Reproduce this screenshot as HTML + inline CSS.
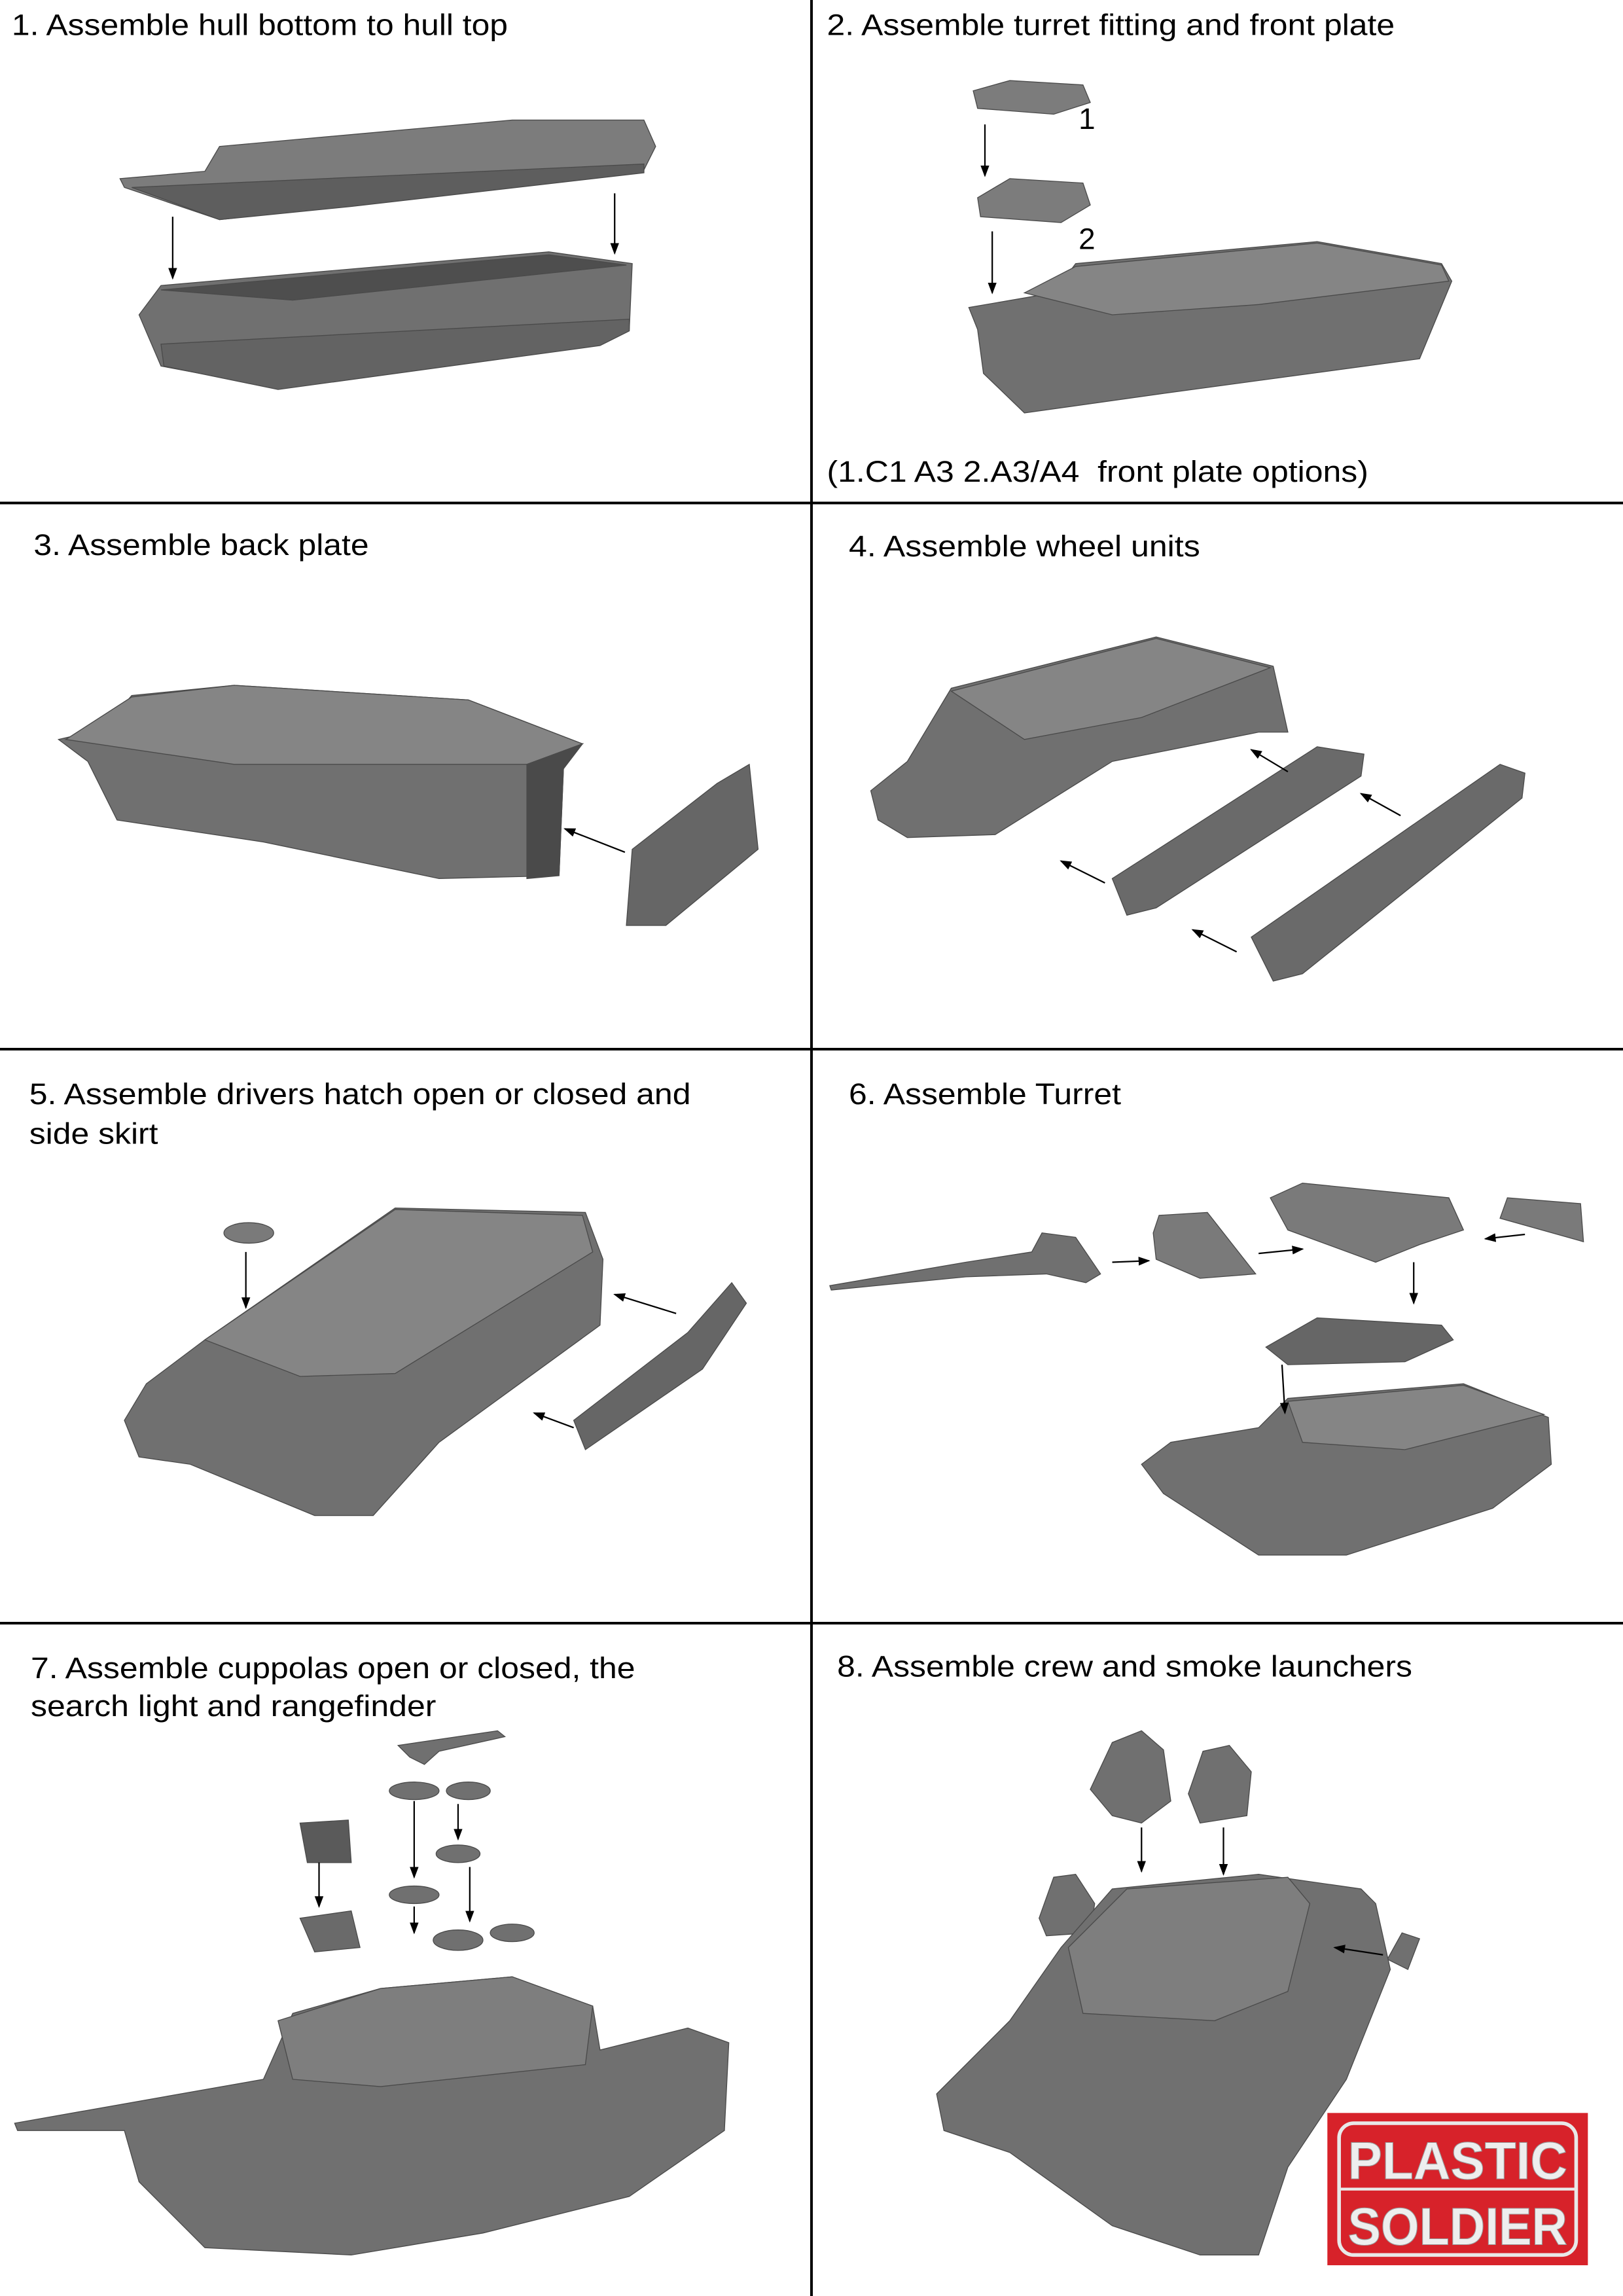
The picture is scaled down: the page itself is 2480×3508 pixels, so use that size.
<!DOCTYPE html>
<html><head><meta charset="utf-8"><style>
html,body{margin:0;padding:0;background:#fff;}
svg{display:block;}
text{font-family:"Liberation Sans",Arial,sans-serif;fill:#000;}
</style></head><body>
<svg width="2480" height="3508" viewBox="0 0 1109 1568" preserveAspectRatio="none" xmlns="http://www.w3.org/2000/svg">
<defs>
<marker id="ah" markerWidth="8" markerHeight="8" refX="7" refY="4" orient="auto" markerUnits="userSpaceOnUse"><path d="M0,1 L8,4 L0,7 Z" fill="#000"/></marker>
</defs>
<rect width="1109" height="1568" fill="#fff"/>
<g stroke="#000" stroke-width="1.8">
<line x1="554.5" y1="0" x2="554.5" y2="1568"/>
<line x1="0" y1="343.5" x2="1109" y2="343.5"/>
<line x1="0" y1="716.5" x2="1109" y2="716.5"/>
<line x1="0" y1="1108.5" x2="1109" y2="1108.5"/>
</g>
<g font-size="20.5" lengthAdjust="spacingAndGlyphs">
<text x="8" y="24" textLength="339" lengthAdjust="spacingAndGlyphs">1. Assemble hull bottom to hull top</text>
<text x="565" y="24" textLength="388" lengthAdjust="spacingAndGlyphs">2. Assemble turret fitting and front plate</text>
<text x="565" y="329" textLength="370" lengthAdjust="spacingAndGlyphs" xml:space="preserve">(1.C1 A3 2.A3/A4  front plate options)</text>
<text x="737" y="88">1</text>
<text x="737" y="170">2</text>
<text x="23" y="379" textLength="229" lengthAdjust="spacingAndGlyphs">3. Assemble back plate</text>
<text x="580" y="380" textLength="240" lengthAdjust="spacingAndGlyphs">4. Assemble wheel units</text>
<text x="20" y="754" textLength="452" lengthAdjust="spacingAndGlyphs">5. Assemble drivers hatch open or closed and</text>
<text x="20" y="781" textLength="88" lengthAdjust="spacingAndGlyphs">side skirt</text>
<text x="580" y="754" textLength="186" lengthAdjust="spacingAndGlyphs">6. Assemble Turret</text>
<text x="21" y="1146" textLength="413" lengthAdjust="spacingAndGlyphs">7. Assemble cuppolas open or closed, the</text>
<text x="21" y="1172" textLength="277" lengthAdjust="spacingAndGlyphs">search light and rangefinder</text>
<text x="572" y="1145" textLength="393" lengthAdjust="spacingAndGlyphs">8. Assemble crew and smoke launchers</text>
</g>

<g fill="#707070" stroke="#4a4a4a" stroke-width="0.6">
<polygon points="82,122 140,117 150,100 350,82 440,82 448,100 440,116 240,140 150,150 85,128" fill="#7c7c7c"/>
<polygon points="90,128 440,112 440,118 240,141 150,150" fill="#5e5e5e"/>
<polygon points="95,215 110,195 375,172 432,180 430,225 410,235 190,265 110,250"/>
<polygon points="110,198 375,174 428,181 200,205" fill="#4e4e4e"/>
<polygon points="110,235 430,218 430,226 410,236 190,266 112,250" fill="#636363"/>
<polygon points="665,62 690,55 740,58 745,70 720,78 668,74" fill="#7c7c7c"/>
<polygon points="668,135 690,122 740,125 745,140 725,152 670,148" fill="#7c7c7c"/>
<polygon points="662,210 720,200 735,180 900,165 985,180 992,192 970,245 800,268 700,282 672,255 668,225" />
<polygon points="700,200 735,182 900,166 985,181 990,192 860,208 760,215" fill="#858585"/>
<polygon points="40,505 70,498 90,475 160,468 320,478 398,508 385,525 382,598 300,600 180,575 80,560 60,520"/>
<polygon points="45,505 90,476 160,468 320,478 398,508 360,522 160,522" fill="#858585"/>
<polygon points="360,522 398,508 385,525 382,598 360,600" fill="#4a4a4a"/>
<polygon points="432,580 490,535 512,522 518,580 455,632 428,632" fill="#666"/>
<polygon points="595,540 620,520 650,470 790,435 870,455 880,500 860,500 760,520 680,570 620,572 600,560"/>
<polygon points="650,472 790,436 868,456 780,490 700,505" fill="#858585"/>
<polygon points="760,600 900,510 932,515 930,530 790,620 770,625" fill="#6a6a6a"/>
<polygon points="855,640 1025,522 1042,528 1040,545 890,665 870,670" fill="#6a6a6a"/>
<ellipse cx="170" cy="842" rx="17" ry="7" fill="#7a7a7a"/>
<polygon points="85,970 100,945 140,915 270,825 400,828 412,860 410,905 300,985 255,1035 215,1035 130,1000 95,995"/>
<polygon points="140,915 270,826 398,830 405,855 270,938 205,940" fill="#858585"/>
<polygon points="392,970 470,910 500,876 510,890 480,935 400,990" fill="#666"/>
<polygon points="567,878 660,862 705,855 712,842 735,845 752,870 742,876 715,870 660,872 568,881"/>
<polygon points="788,842 792,830 825,828 858,870 820,873 790,860" fill="#7a7a7a"/>
<polygon points="868,818 890,808 990,818 1000,840 970,850 940,862 880,840" fill="#7a7a7a"/>
<polygon points="1025,832 1030,818 1080,822 1082,848" fill="#7a7a7a"/>
<polygon points="865,920 900,900 985,905 993,915 960,930 880,932" fill="#666"/>
<polygon points="780,1000 800,985 860,975 880,955 1000,945 1058,968 1060,1000 1020,1030 920,1062 860,1062 795,1020"/>
<polygon points="880,957 1000,946 1055,966 960,990 890,985" fill="#858585"/>
<polygon points="205,1245 238,1243 240,1272 210,1272" fill="#5a5a5a"/>
<polygon points="205,1310 240,1305 246,1330 215,1333" fill="#6a6a6a"/>
<ellipse cx="283" cy="1223" rx="17" ry="6"/>
<ellipse cx="320" cy="1223" rx="15" ry="6"/>
<ellipse cx="313" cy="1266" rx="15" ry="6"/>
<ellipse cx="283" cy="1294" rx="17" ry="6"/>
<ellipse cx="313" cy="1325" rx="17" ry="7"/>
<ellipse cx="350" cy="1320" rx="15" ry="6"/>
<polygon points="272,1192 340,1182 345,1186 300,1196 290,1205 280,1200"/>
<polygon points="10,1450 180,1420 200,1375 260,1358 350,1350 405,1370 410,1400 470,1385 498,1395 495,1455 430,1500 330,1525 240,1540 140,1535 95,1490 85,1455 12,1455"/>
<polygon points="190,1380 260,1358 350,1350 405,1370 400,1410 260,1425 200,1420" fill="#7e7e7e"/>
<polygon points="745,1222 760,1190 780,1182 795,1195 800,1230 780,1245 760,1240"/>
<polygon points="812,1225 822,1196 840,1192 855,1210 852,1240 820,1245"/>
<polygon points="710,1310 720,1282 735,1280 748,1300 745,1320 715,1322"/>
<polygon points="948,1338 958,1320 970,1324 962,1345"/>
<polygon points="640,1430 690,1380 725,1330 760,1290 860,1280 930,1290 940,1300 950,1345 920,1420 880,1480 860,1540 820,1540 760,1520 690,1470 645,1455"/>
<polygon points="730,1330 770,1290 880,1282 895,1300 880,1360 830,1380 740,1375" fill="#7e7e7e"/>
</g>

<g stroke="#000" stroke-width="1" fill="none" marker-end="url(#ah)">
<line x1="118" y1="148" x2="118" y2="190"/>
<line x1="420" y1="132" x2="420" y2="173"/>
<line x1="673" y1="85" x2="673" y2="120"/>
<line x1="678" y1="158" x2="678" y2="200"/>
<line x1="427" y1="582" x2="386" y2="566"/>
<line x1="880" y1="527" x2="855" y2="512"/>
<line x1="957" y1="557" x2="930" y2="542"/>
<line x1="755" y1="603" x2="725" y2="588"/>
<line x1="845" y1="650" x2="815" y2="635"/>
<line x1="168" y1="855" x2="168" y2="893"/>
<line x1="462" y1="897" x2="420" y2="884"/>
<line x1="392" y1="975" x2="365" y2="965"/>
<line x1="760" y1="862" x2="785" y2="861"/>
<line x1="860" y1="856" x2="890" y2="853"/>
<line x1="1042" y1="843" x2="1015" y2="846"/>
<line x1="966" y1="862" x2="966" y2="890"/>
<line x1="876" y1="932" x2="878" y2="965"/>
<line x1="218" y1="1272" x2="218" y2="1302"/>
<line x1="283" y1="1230" x2="283" y2="1282"/>
<line x1="313" y1="1232" x2="313" y2="1256"/>
<line x1="283" y1="1302" x2="283" y2="1320"/>
<line x1="321" y1="1275" x2="321" y2="1312"/>
<line x1="780" y1="1248" x2="780" y2="1278"/>
<line x1="836" y1="1248" x2="836" y2="1280"/>
<line x1="945" y1="1335" x2="912" y2="1330"/>
</g>

<rect x="907" y="1443" width="178" height="104" fill="#d7222a"/>
<rect x="915" y="1450" width="162" height="90" rx="10" fill="none" stroke="#e8e8e8" stroke-width="2.5"/>
<line x1="915" y1="1495" x2="1077" y2="1495" stroke="#e8e8e8" stroke-width="2"/>
<g font-size="36" font-weight="bold" stroke="#999" stroke-width="0.5">
<text x="996" y="1488" text-anchor="middle" textLength="150" lengthAdjust="spacingAndGlyphs" style="fill:#eee">PLASTIC</text>
<text x="996" y="1533" text-anchor="middle" textLength="150" lengthAdjust="spacingAndGlyphs" style="fill:#eee">SOLDIER</text>
</g>
</svg>
</body></html>
